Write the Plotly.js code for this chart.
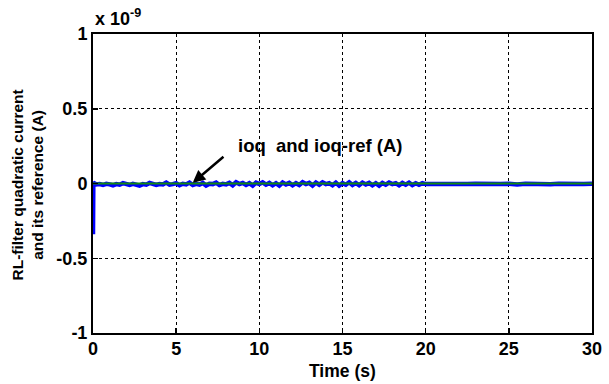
<!DOCTYPE html>
<html><head><meta charset="utf-8">
<script src="https://cdn.plot.ly/plotly-3.0.1.min.js"></script>
<style>html,body{margin:0;padding:0;background:#fff}#c{width:609px;height:384px}</style>
</head><body><div id="c"></div>
<script>
// values in units of 1e-9 A
const timeBlue = [0,0.02,
 0.2,0.4,0.6,0.8,1.0,1.2,1.4,1.6,1.8,2.0,2.2,2.4,2.6,2.8,3.0,3.2,3.4,3.6,3.8,4.0,
 4.2,4.4,4.6,4.8,5.0,5.2,5.4,5.6,5.8,6.0,6.2,6.4,6.6,6.8,7.0,7.2,7.4,7.6,7.8,8.0,
 8.2,8.4,8.6,8.8,9.0,9.2,9.4,9.6,9.8,10.0,10.2,10.4,10.6,10.8,11.0,11.2,11.4,11.6,11.8,12.0,
 12.2,12.4,12.6,12.8,13.0,13.2,13.4,13.6,13.8,14.0,14.2,14.4,14.6,14.8,15.0,15.2,15.4,15.6,15.8,16.0,
 16.2,16.4,16.6,16.8,17.0,17.2,17.4,17.6,17.8,18.0,18.2,18.4,18.6,18.8,19.0,19.2,19.4,19.6,19.8,20.0,
 20.5,21,21.5,22,22.5,23,23.5,24,24.5,25,25.5,26,26.5,27,27.5,28,28.5,29,29.5,30];
const ioq = [-0.34,0.006,
 -0.006,-0.004,-0.01,-0.002,-0.006,-0.012,-0.004,-0.008,0.002,-0.004,
 -0.01,-0.002,-0.006,-0.014,-0.004,-0.008,0.004,-0.002,-0.01,-0.004,
 -0.006,0.006,-0.008,-0.004,0.002,-0.012,-0.002,-0.006,0.006,-0.01,
 -0.002,-0.008,0.004,-0.014,-0.002,-0.004,0.006,-0.01,-0.002,-0.006,
 0.004,-0.012,0.008,-0.004,0.004,-0.01,0.002,-0.014,0.006,-0.004,
 0.008,-0.008,0.004,-0.012,0.002,-0.014,0.006,-0.006,0.004,-0.012,
 0.002,-0.01,0.008,-0.004,0.004,-0.014,0.006,-0.008,0.008,-0.004,
 0.002,-0.012,0.006,-0.014,0.002,-0.008,0.008,-0.01,0.004,-0.012,
 0.006,-0.006,0.004,-0.012,0.002,-0.014,0.004,-0.008,0.006,-0.004,
 0.002,-0.012,0.004,-0.008,0.006,-0.01,0.002,-0.008,0.002,-0.004,
 -0.005,-0.002,-0.006,-0.003,-0.004,-0.002,-0.005,-0.003,-0.004,-0.002,
 -0.006,-0.002,-0.004,-0.003,-0.005,-0.002,-0.004,-0.003,-0.004,-0.002];
const timeRef = [0,30];
const ioqRef = [0,0];
const xTicks = [0,5,10,15,20,25,30];
const yTicks = [-1,-0.5,0,0.5,1];
const yTickText = ['-1','-0.5','0','0.5','1'];

const F = 'Liberation Sans, Arial, sans-serif';
const data = [
  {x: timeBlue, y: ioq, type:'scatter', mode:'lines', line:{color:'#0000ff', width:4.5}, hoverinfo:'skip'},
  {x: timeRef, y: ioqRef, type:'scatter', mode:'lines', line:{color:'#128a12', width:2}, hoverinfo:'skip'}
];
const layout = {
  width:609, height:384, showlegend:false,
  paper_bgcolor:'#fff', plot_bgcolor:'#fff',
  margin:{l:93, r:17, t:34, b:51},
  font:{family:F, size:18, color:'#000'},
  xaxis:{range:[0,30], tickvals:xTicks, ticks:'inside', ticklen:5, tickwidth:1.5, tickcolor:'#000',
    showline:true, linecolor:'#000', linewidth:2, mirror:true, zeroline:false,
    showgrid:true, gridcolor:'#000', gridwidth:1, griddash:'3px,3px', ticklabelstandoff:-2,
    tickfont:{family:F, size:18, weight:'bold'}},
  yaxis:{range:[-1,1], tickvals:yTicks, ticktext:yTickText, ticks:'inside', ticklen:5, tickwidth:1.5, tickcolor:'#000',
    showline:true, linecolor:'#000', linewidth:2, mirror:true, zeroline:false,
    showgrid:true, gridcolor:'#000', gridwidth:1, griddash:'3px,3px',
    tickfont:{family:F, size:18, weight:'bold'}},
  annotations:[
    {xref:'paper', yref:'paper', x:0.5, y:0, xanchor:'center', yanchor:'middle', yshift:-38,
     text:'<b>Time (s)</b>', showarrow:false, font:{family:F, size:17.5}},
    {xref:'paper', yref:'paper', x:0, y:0.5, xanchor:'center', yanchor:'middle', xshift:-66, yshift:-2, textangle:-90,
     text:'<b>RL-filter quadratic current<br>and its reference (A)</b>', showarrow:false, font:{family:F, size:15.5}},
    {xref:'paper', yref:'paper', x:0.0, y:1.0, xanchor:'left', yanchor:'bottom', yshift:3, xshift:0,
     text:'<b>x 10<sup>-9</sup></b>', showarrow:false, font:{family:F, size:18}},
    {x:5.95, y:0.0, xref:'x', yref:'y', ax:33, ay:-28, axref:'pixel', ayref:'pixel',
     showarrow:true, arrowhead:2, arrowsize:1, arrowwidth:2.5, arrowcolor:'#000', text:'', standoff:1},
    {x:8.6, y:0.255, xref:'x', yref:'y', xanchor:'left', yanchor:'middle', text:'<b>ioq  and ioq-ref (A)</b>',
     showarrow:false, font:{family:F, size:18.5}}
  ]
};
Plotly.newPlot('c', data, layout, {staticPlot:true});
</script></body></html>
